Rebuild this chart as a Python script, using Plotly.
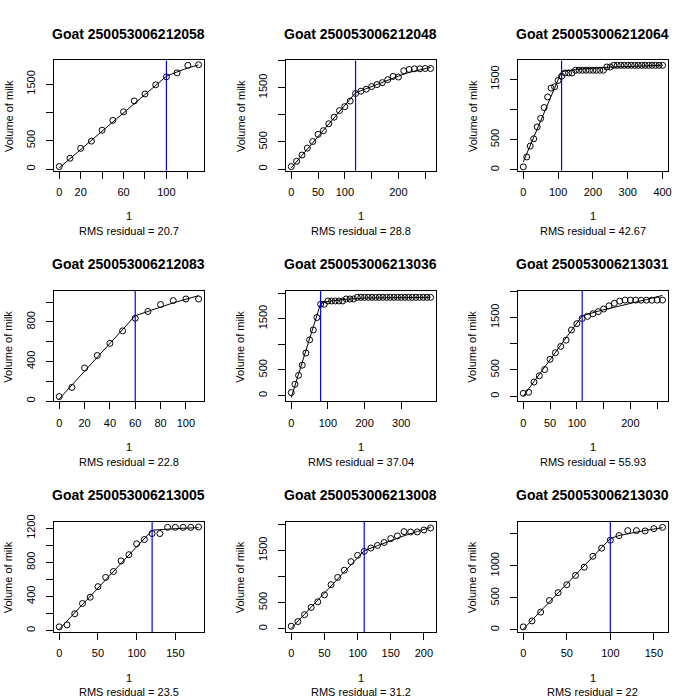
import plotly.graph_objects as go

# goat ids, one panel each (row by row)
goats = ["250053006212058", "250053006212048", "250053006212064",
         "250053006212083", "250053006213036", "250053006213031",
         "250053006213005", "250053006213008", "250053006213030"]
rms = ["20.7", "28.8", "42.67", "22.8", "37.04", "55.93", "23.5", "31.2", "22"]
breaks = [100, 120, 110, 60, 80, 110, 120, 110, 100]

# measured volume of milk, days every 10
days = [list(range(0, 140, 10)), list(range(0, 270, 10)), list(range(0, 410, 10)),
        list(range(0, 120, 10)), list(range(0, 390, 10)), list(range(0, 270, 10)),
        list(range(0, 190, 10)), list(range(0, 220, 10)), list(range(0, 170, 10))]

milk_058 = [46, 192, 366, 494, 686, 860, 1011, 1203, 1325, 1487, 1627, 1697, 1830, 1840]
milk_048 = [48, 145, 260, 387, 508, 641, 708, 835, 956, 1077, 1150, 1252, 1391, 1434,
            1470, 1519, 1555, 1591, 1646, 1706, 1694, 1809, 1833, 1845, 1845, 1851, 1851]
milk_064 = [49, 213, 393, 513, 710, 851, 1031, 1206, 1353, 1374, 1479, 1549, 1603, 1603,
            1603, 1648, 1648, 1648, 1648, 1648, 1648, 1648, 1648, 1648, 1702, 1702,
            1729, 1729, 1729, 1729, 1729, 1729, 1729, 1729, 1729, 1729, 1729, 1729,
            1729, 1729, 1729]
milk_083 = [46, 139, 335, 461, 584, 710, 837, 906, 976, 1016, 1032, 1032]
milk_036 = [58, 220, 394, 593, 830, 1088, 1281, 1524, 1783, 1783, 1847, 1847, 1847, 1847,
            1847, 1886, 1886, 1886, 1918, 1918, 1918, 1918, 1918, 1918, 1918, 1918,
            1918, 1918, 1918, 1918, 1918, 1918, 1918, 1918, 1918, 1918, 1918, 1918, 1918]
milk_031 = [56, 75, 270, 389, 508, 703, 828, 948, 1067, 1261, 1381, 1480, 1520, 1570,
            1610, 1660, 1720, 1770, 1810, 1830, 1830, 1830, 1828, 1828, 1828, 1830, 1830]
milk_005 = [43, 66, 197, 317, 391, 515, 623, 693, 817, 890, 1018, 1068, 1138, 1138,
            1211, 1211, 1211, 1211, 1215]
milk_008 = [50, 139, 271, 410, 517, 649, 844, 983, 1121, 1285, 1405, 1481, 1544, 1594,
            1651, 1726, 1777, 1859, 1852, 1852, 1890, 1928]
milk_030 = [46, 139, 278, 459, 582, 706, 851, 979, 1150, 1278, 1402, 1474, 1552, 1552,
            1547, 1583, 1603]
milk = [milk_058, milk_048, milk_064, milk_083, milk_036, milk_031, milk_005, milk_008, milk_030]

# fitted curves
fit_x = [[0, 100, 110, 120, 130],
         [0, 120, 140, 160, 180, 200, 220, 240, 260],
         [0, 110, 150, 250, 400],
         [0, 60, 70, 80, 90, 100, 110],
         [0, 80, 100, 150, 200, 380],
         [0, 110, 140, 170, 200, 230, 260],
         [0, 120, 130, 140, 160, 180],
         [0, 110, 130, 150, 170, 190, 210],
         [0, 100, 110, 120, 140, 160]]
fit_y = [[23, 1638, 1714, 1784, 1836],
         [24, 1404, 1480, 1560, 1640, 1710, 1780, 1830, 1870],
         [131, 1625, 1660, 1700, 1730],
         [23, 863, 906, 953, 993, 1029, 1066],
         [-38, 1795, 1840, 1880, 1905, 1918],
         [0, 1530, 1620, 1690, 1760, 1840, 1920],
         [15, 1176, 1184, 1192, 1200, 1207],
         [10, 1493, 1590, 1690, 1780, 1860, 1940],
         [10, 1428, 1475, 1505, 1555, 1598]]

# y axis limits as drawn
ylims = [(-29, 1917), (-30, 2000), (-16, 1811), (-3, 1112), (-116, 2041),
         (-100, 2002), (-19, 1277), (-63, 2048), (-36, 1691)]

# tick values and the labels R kept
xticks = [[0, 20, 40, 60, 80, 100, 120], [0, 50, 100, 150, 200, 250], [0, 100, 200, 300, 400],
          [0, 20, 40, 60, 80, 100], [0, 100, 200, 300], [0, 50, 100, 150, 200, 250],
          [0, 50, 100, 150], [0, 50, 100, 150, 200], [0, 50, 100, 150]]
xlabels = [["0", "20", "", "60", "", "100", ""], ["0", "50", "100", "", "200", ""],
           ["0", "100", "200", "300", "400"], ["0", "20", "40", "60", "80", "100"],
           ["0", "100", "200", "300"], ["0", "50", "100", "", "200", ""],
           ["0", "50", "100", "150"], ["0", "50", "100", "150", "200"], ["0", "50", "100", "150"]]
yticks = [[0, 500, 1000, 1500], [0, 500, 1000, 1500, 2000], [0, 500, 1000, 1500],
          [0, 200, 400, 600, 800, 1000], [0, 500, 1000, 1500, 2000], [0, 500, 1000, 1500, 2000],
          [0, 200, 400, 600, 800, 1000, 1200], [0, 500, 1000, 1500, 2000], [0, 500, 1000, 1500]]
ylabels = [["0", "500", "", "1500"], ["0", "500", "", "1500", ""], ["0", "500", "", "1500"],
           ["0", "", "400", "", "800", ""], ["0", "500", "", "1500", ""], ["0", "500", "", "1500", ""],
           ["0", "", "400", "", "800", "", "1200"], ["0", "500", "", "1500", ""], ["0", "500", "1000", ""]]

W = 700.0
CELL = 700.0 / 3
FONT = "Liberation Sans, Arial, sans-serif"

fig = go.Figure()
annotations = []
shapes = []

for i in range(9):
    r, c = divmod(i, 3)
    n = "" if i == 0 else str(i + 1)
    x0 = 54 + c * CELL
    x1 = 205.3 + c * CELL
    top = 54 + r * CELL
    bot = 165.7 + r * CELL
    xc = (x0 + x1) / 2

    fig.add_trace(go.Scatter(x=fit_x[i], y=fit_y[i], mode="lines",
                             line=dict(color="black", width=1),
                             xaxis="x" + n, yaxis="y" + n, showlegend=False,
                             hoverinfo="skip"))
    fig.add_trace(go.Scatter(x=days[i], y=milk[i], mode="markers",
                             marker=dict(symbol="circle-open", size=6, color="black",
                                         line=dict(width=1)),
                             xaxis="x" + n, yaxis="y" + n, showlegend=False))

    xmax = max(days[i])
    pad = 0.04 * xmax
    common = dict(showline=True, mirror=True, linecolor="black", linewidth=1,
                  ticks="outside", ticklen=7, tickwidth=1, tickcolor="black",
                  showgrid=False, zeroline=False, tickmode="array",
                  tickfont=dict(family=FONT, size=11, color="black"))
    fig.layout["xaxis" + n] = dict(common, domain=[x0 / W, x1 / W],
                                   range=[-pad, xmax + pad], anchor="y" + n,
                                   tickvals=xticks[i], ticktext=xlabels[i],
                                   ticklabelstandoff=4)
    fig.layout["yaxis" + n] = dict(common, domain=[1 - bot / W, 1 - top / W],
                                   range=list(ylims[i]), anchor="x" + n,
                                   tickvals=yticks[i], ticktext=ylabels[i],
                                   tickangle=-90, ticklabelstandoff=6)

    shapes.append(dict(type="line", xref="x" + n, yref="y" + n + " domain",
                       x0=breaks[i], x1=breaks[i], y0=0, y1=1,
                       line=dict(color="blue", width=1.2)))

    annotations.append(dict(text="<b>Goat " + goats[i] + "</b>", x=xc / W,
                            y=1 - (27 + r * CELL) / W, xref="paper", yref="paper",
                            showarrow=False, font=dict(family=FONT, size=14, color="black"),
                            xanchor="center", yanchor="middle"))
    annotations.append(dict(text="Volume of milk", x=(8.3 + c * CELL) / W,
                            y=1 - (110 + r * CELL) / W, xref="paper", yref="paper",
                            showarrow=False, textangle=-90,
                            font=dict(family=FONT, size=11, color="black"),
                            xanchor="center", yanchor="middle"))
    annotations.append(dict(text="1", x=xc / W, y=1 - (211.7 + r * CELL) / W,
                            xref="paper", yref="paper", showarrow=False,
                            font=dict(family=FONT, size=11, color="black"),
                            xanchor="center", yanchor="middle"))
    annotations.append(dict(text="RMS residual = " + rms[i], x=xc / W,
                            y=1 - (226.7 + r * CELL) / W, xref="paper", yref="paper",
                            showarrow=False, font=dict(family=FONT, size=11, color="black"),
                            xanchor="center", yanchor="middle"))

fig.update_layout(width=700, height=700, margin=dict(l=0, r=0, t=0, b=0),
                  paper_bgcolor="white", plot_bgcolor="white",
                  annotations=annotations, shapes=shapes, showlegend=False)

# drop the page's default body margin so the figure sits at the window corner
page_css = ("document.documentElement.style.overflow='hidden';"
            "document.body.style.margin='0';"
            "document.body.style.overflow='hidden';")
fig.write_html("out.html", post_script=page_css,
               config={"displayModeBar": False})
